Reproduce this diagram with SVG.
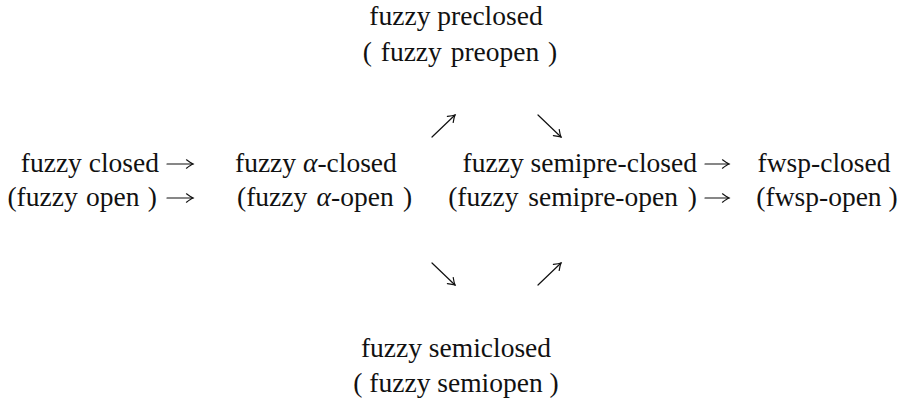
<svg xmlns="http://www.w3.org/2000/svg" width="903" height="408" viewBox="0 0 903 408">
<style>
.a{fill:none;stroke:#111;stroke-width:1.2;stroke-linecap:round;}
</style>
<defs>
<marker id="ah" viewBox="-8 -5 10 10" markerWidth="10" markerHeight="10" refX="0" refY="0" orient="auto" markerUnits="userSpaceOnUse">
<path d="M-6.5,-4.2 Q-2,-0.8 0,0 Q-2,0.8 -6.5,4.2" fill="none" stroke="#111" stroke-width="1.2" stroke-linecap="round"/>
</marker>
</defs>
<rect width="903" height="408" fill="#fff"/>
<g id="preclosed">
<text x="456" y="25" font-family="Liberation Serif" font-size="27.5" fill="#111" text-anchor="middle">fuzzy preclosed</text>
<text x="460" y="61" font-family="Liberation Serif" font-size="27.5" fill="#111" text-anchor="middle" word-spacing="2">( fuzzy preopen )</text>
</g>
<g id="closed">
<text x="159" y="172" font-family="Liberation Serif" font-size="27.5" fill="#111" text-anchor="end">fuzzy closed</text>
<text x="157" y="206" font-family="Liberation Serif" font-size="27.5" fill="#111" text-anchor="end" word-spacing="1.5">(fuzzy open )</text>
</g>
<g id="alpha">
<text x="235" y="172" font-family="Liberation Serif" font-size="27.5" fill="#111">fuzzy <tspan font-style="italic">α</tspan>-closed</text>
<text x="237" y="206" font-family="Liberation Serif" font-size="27.5" fill="#111" word-spacing="2.5">(fuzzy <tspan font-style="italic">α</tspan>-open )</text>
</g>
<g id="semipre">
<text x="697" y="172" font-family="Liberation Serif" font-size="27.5" fill="#111" text-anchor="end">fuzzy semipre-closed</text>
<text x="697" y="206" font-family="Liberation Serif" font-size="27.5" fill="#111" text-anchor="end" word-spacing="3">(fuzzy semipre-open )</text>
</g>
<g id="fwsp">
<text x="824" y="172" font-family="Liberation Serif" font-size="27.5" fill="#111" text-anchor="middle">fwsp-closed</text>
<text x="827" y="206" font-family="Liberation Serif" font-size="27.5" fill="#111" text-anchor="middle">(fwsp-open )</text>
</g>
<g id="semiclosed">
<text x="456" y="357" font-family="Liberation Serif" font-size="27.5" fill="#111" text-anchor="middle">fuzzy semiclosed</text>
<text x="456" y="392" font-family="Liberation Serif" font-size="27.5" fill="#111" text-anchor="middle">( fuzzy semiopen )</text>
</g>
<g id="connectors" class="a">
<path d="M167,164 H193" marker-end="url(#ah)"/>
<path d="M167,198 H193" marker-end="url(#ah)"/>
<path d="M705,164 H729" marker-end="url(#ah)"/>
<path d="M705,198 H729" marker-end="url(#ah)"/>
<path d="M432,137 L455,115" marker-end="url(#ah)"/>
<path d="M538,115 L561,137" marker-end="url(#ah)"/>
<path d="M432,263 L455,285" marker-end="url(#ah)"/>
<path d="M538,285 L561,263" marker-end="url(#ah)"/>
</g>
</svg>
